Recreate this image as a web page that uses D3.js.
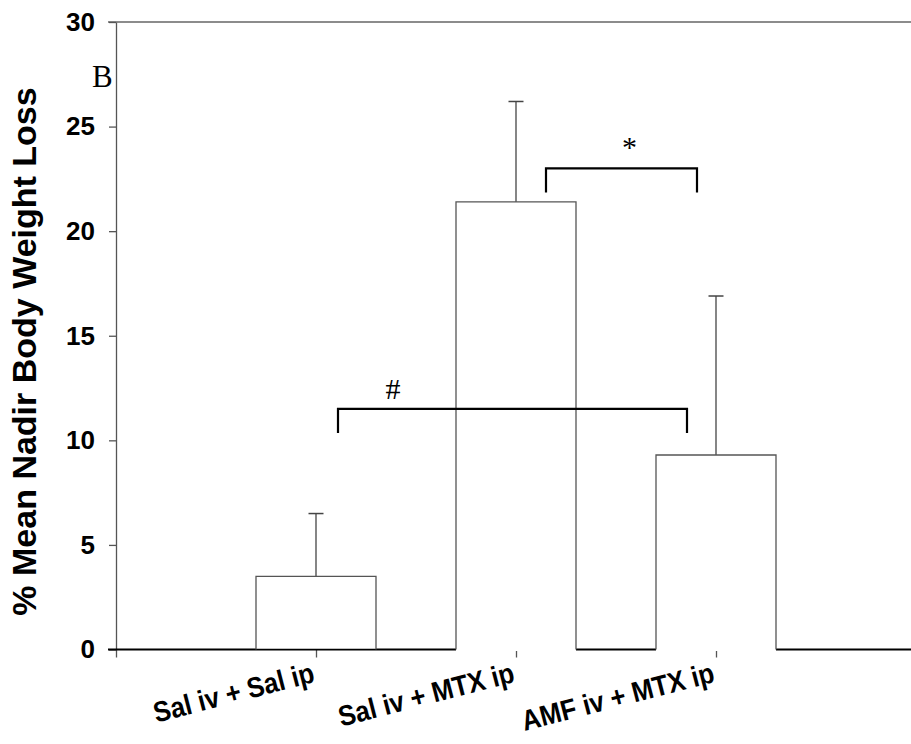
<!DOCTYPE html>
<html>
<head>
<meta charset="utf-8">
<script src="https://cdn.jsdelivr.net/npm/d3@7"></script>
<style>
  html, body { margin: 0; padding: 0; background: #fff; }
  svg { display: block; }
</style>
</head>
<body>
<svg id="chart" width="911" height="744"></svg>
<script>
// Groups, mean nadir weight loss (%) and the upper SEM bar
const groups = ["Sal iv + Sal ip", "Sal iv + MTX ip", "AMF iv + MTX ip"];
const means = [3.5, 21.4, 9.3];
const errors = [3.0, 4.8, 7.6];
const yTicks = [0, 5, 10, 15, 20, 25, 30];
const yTitle = "% Mean Nadir Body Weight Loss";
const panelLabel = "B";
// Significance brackets: from group index, to group index, height, symbol
const bracketFrom = [1, 0];
const bracketTo = [2, 2];
const bracketLevel = [23.0, 11.5];
const bracketSymbol = ["*", "#"];

const W = 911, H = 744;
const svg = d3.select("#chart");

const y = d3.scaleLinear().domain([0, 30]).range([649.5, 22]);
const x = d3.scaleLinear().domain([0, 4]).range([116, 916]);
const barW = x(0.6) - x(0);

const sansBold = "'Liberation Sans', Arial, sans-serif";
const serif = "'Liberation Serif', 'Times New Roman', serif";

// top frame line at the axis maximum
svg.append("line")
  .attr("x1", 108).attr("x2", W)
  .attr("y1", y(30)).attr("y2", y(30))
  .attr("stroke", "#666").attr("stroke-width", 1.5);

// y axis
const yAxis = svg.append("g")
  .attr("transform", `translate(${x(0)},0)`)
  .call(d3.axisLeft(y).tickValues(yTicks).tickSize(7).tickSizeOuter(0).tickPadding(14));
yAxis.select(".domain").attr("stroke", "#555").attr("stroke-width", 1.3);
yAxis.selectAll(".tick line").attr("stroke", "#555").attr("stroke-width", 1.3);
yAxis.selectAll(".tick text")
  .attr("font-family", sansBold).attr("font-weight", "bold")
  .attr("font-size", 26).attr("fill", "#000");

// x axis: baseline plus downward ticks at the group positions
const xAxis = svg.append("g")
  .attr("transform", `translate(0,${y(0)})`)
  .call(d3.axisBottom(x).tickValues([0, 1, 2, 3]).tickSize(8).tickFormat(""));
xAxis.select(".domain").remove();
xAxis.selectAll(".tick line").attr("stroke", "#555").attr("stroke-width", 1.3);
svg.append("line")
  .attr("x1", 108).attr("x2", W)
  .attr("y1", y(0)).attr("y2", y(0))
  .attr("stroke", "#000").attr("stroke-width", 2);

// error bars (upper only)
const errG = svg.append("g");
groups.forEach((g, i) => {
  const cx = x(i + 1);
  errG.append("line")
    .attr("x1", cx).attr("x2", cx)
    .attr("y1", y(means[i])).attr("y2", y(means[i] + errors[i]))
    .attr("stroke", "#444").attr("stroke-width", 1.3);
  errG.append("line")
    .attr("x1", cx - 7.5).attr("x2", cx + 7.5)
    .attr("y1", y(means[i] + errors[i])).attr("y2", y(means[i] + errors[i]))
    .attr("stroke", "#444").attr("stroke-width", 1.5);
});

// hollow bars, open along the baseline for the treated groups
const barG = svg.append("g");
groups.forEach((g, i) => {
  const x0 = x(i + 1) - barW / 2, x1 = x(i + 1) + barW / 2;
  const top = y(means[i]);
  barG.append("rect")
    .attr("x", x0).attr("y", top)
    .attr("width", barW)
    .attr("height", y(0) - top + (i === 0 ? -1 : 1.5))
    .attr("fill", "#fff");
  barG.append("path")
    .attr("d", `M${x0},${y(0)}V${top}H${x1}V${y(0)}`)
    .attr("fill", "none").attr("stroke", "#555").attr("stroke-width", 1.3);
});

// category labels, slanted
groups.forEach((g, i) => {
  const ax = x(i + 1), ay = y(0) + 32;
  svg.append("text")
    .attr("transform", `translate(${ax},${ay}) rotate(-14.5) scale(0.97,1.08)`)
    .attr("text-anchor", "end")
    .attr("font-family", sansBold).attr("font-weight", "bold")
    .attr("font-size", 26.5).attr("fill", "#000")
    .text(g);
});

// y axis title
svg.append("text")
  .attr("transform", `translate(36,${(88 + 615) / 2}) rotate(-90)`)
  .attr("text-anchor", "middle")
  .attr("font-family", sansBold).attr("font-weight", "bold")
  .attr("font-size", 34).attr("fill", "#000")
  .text(yTitle);

// panel letter
svg.append("text")
  .attr("x", 92).attr("y", 87)
  .attr("font-family", serif).attr("font-size", 31).attr("fill", "#000")
  .text(panelLabel);

// significance brackets
bracketFrom.forEach((f, k) => {
  const xa = x(f + 1) + (k === 0 ? 30 : 22);
  const xb = x(bracketTo[k] + 1) - (k === 0 ? 19 : 29);
  const yl = y(bracketLevel[k]);
  const drop = 24;
  svg.append("path")
    .attr("d", `M${xa},${yl + drop}V${yl}H${xb}V${yl + drop}`)
    .attr("fill", "none").attr("stroke", "#000").attr("stroke-width", 2.2);
  const tx = k === 0 ? (xa + xb) / 2 + 8 : xa + 55;
  svg.append("text")
    .attr("x", tx).attr("y", k === 0 ? yl - 11 : yl - 10)
    .attr("text-anchor", "middle")
    .attr("font-family", serif).attr("font-size", 30).attr("fill", "#000")
    .text(bracketSymbol[k]);
});
</script>
</body>
</html>
